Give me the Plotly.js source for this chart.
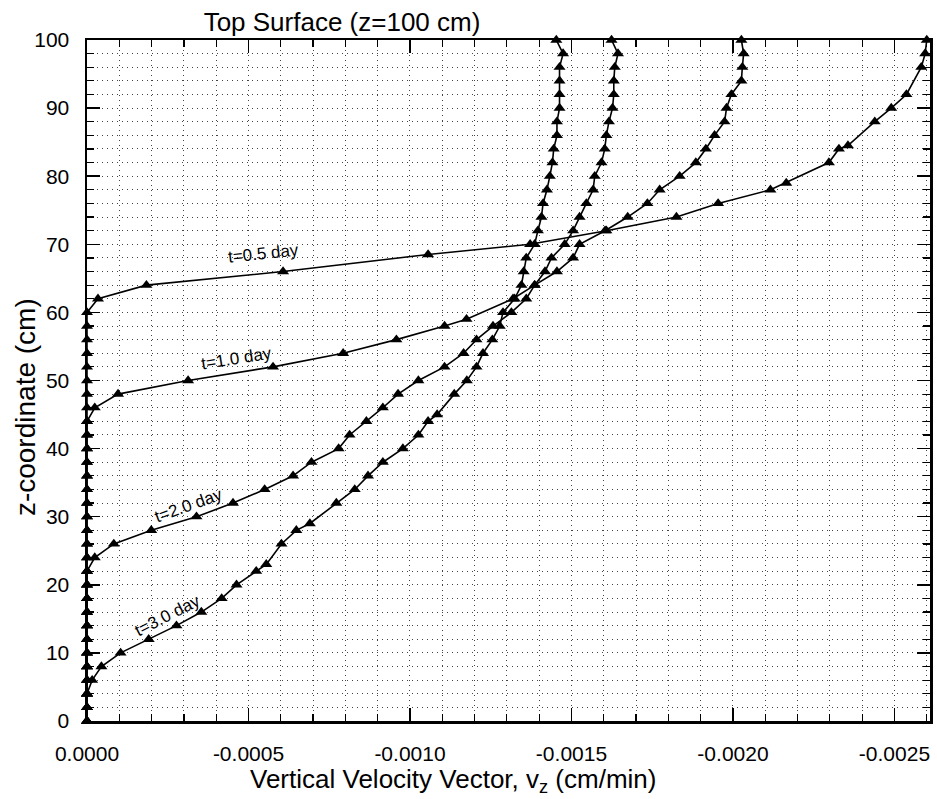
<!DOCTYPE html>
<html>
<head>
<meta charset="utf-8">
<script src="https://cdn.plot.ly/plotly-3.0.1.min.js"></script>
<style>
  html, body { margin: 0; padding: 0; background: #ffffff; }
  #chart { width: 937px; height: 799px; }
</style>
</head>
<body>
<div id="chart"></div>
<script>
// Vertical velocity profiles v_z (cm/min) against depth z (cm) at four times.

const z05 = [100, 98, 96, 92, 90, 88, 84.5, 84, 82, 79, 78, 76, 74, 72, 70, 68.5, 66, 64, 62, 60,
  58, 56, 54, 52, 50, 48, 46, 44, 42, 40, 38, 36, 34, 32, 30, 28, 26, 24, 22, 20,
  18, 16, 14, 12, 10, 8, 6, 4, 2, 0];
const v05 = [-0.002600, -0.002595, -0.002583, -0.002537, -0.002490, -0.002439, -0.002356, -0.002328,
  -0.002297, -0.002165, -0.002116, -0.001954, -0.001825, -0.001608, -0.001372, -0.001056,
  -0.000607, -0.000184, -0.000034, 0,
  0, 0, 0, 0, 0, 0, 0, 0, 0, 0, 0, 0, 0, 0, 0, 0, 0, 0, 0, 0,
  0, 0, 0, 0, 0, 0, 0, 0, 0, 0];

const z10 = [100, 98, 96, 94, 92, 90, 88, 86, 84, 82, 80, 78, 76, 74, 72, 70, 68, 66, 64, 62,
  59, 58, 56, 54, 52, 50, 48, 46, 44, 42, 40, 38, 36, 34, 32, 30, 28, 26, 24, 22,
  20, 18, 16, 14, 12, 10, 8, 6, 4, 2, 0];
const v10 = [-0.002026, -0.002033, -0.002029, -0.002026, -0.001995, -0.001980, -0.001974, -0.001943,
  -0.001916, -0.001885, -0.001835, -0.001773, -0.001735, -0.001674, -0.001604, -0.001525,
  -0.001505, -0.001455, -0.001386, -0.001319,
  -0.001175, -0.001107, -0.000958, -0.000793, -0.000576, -0.000313, -0.000096, -0.000024,
  0, 0, 0, 0, 0, 0, 0, 0, 0, 0, 0, 0,
  0, 0, 0, 0, 0, 0, 0, 0, 0, 0, 0];

const z20 = [100, 98, 96, 94, 92, 90, 88, 86, 84, 82, 80, 78, 76, 74, 72, 70, 68, 66, 64, 62,
  60, 58, 56, 54, 52, 50, 48, 46, 44, 42, 40, 38, 36, 34, 32, 30, 28, 26, 24, 22,
  20, 18, 16, 14, 12, 10, 8, 6, 4, 2, 0];
const v20 = [-0.001624, -0.001644, -0.001634, -0.001631, -0.001631, -0.001627, -0.001616, -0.001608,
  -0.001603, -0.001593, -0.001572, -0.001567, -0.001546, -0.001525, -0.001505, -0.001479,
  -0.001438, -0.001418, -0.001386, -0.001360,
  -0.001314, -0.001257, -0.001206, -0.001166, -0.001107, -0.001026, -0.000963, -0.000916,
  -0.000865, -0.000813, -0.000779, -0.000695, -0.000638, -0.000550, -0.000452, -0.000339,
  -0.000199, -0.000083, -0.000024, 0,
  0, 0, 0, 0, 0, 0, 0, 0, 0, 0, 0];

const z30 = [100, 98, 96, 94, 92, 90, 88, 86, 84, 82, 80, 78, 76, 74, 72, 70, 68, 66, 64, 62,
  60, 58, 56, 54, 52, 50, 48, 45, 44, 42, 40, 38, 36, 34, 32, 29, 28, 26, 23, 22,
  20, 18, 16, 14, 12, 10, 8, 6, 4, 2, 0];
const v30 = [-0.001453, -0.001474, -0.001463, -0.001463, -0.001463, -0.001463, -0.001455, -0.001455,
  -0.001445, -0.001441, -0.001433, -0.001424, -0.001412, -0.001407, -0.001396, -0.001386,
  -0.001360, -0.001352, -0.001345, -0.001324,
  -0.001288, -0.001278, -0.001255, -0.001226, -0.001206, -0.001176, -0.001137, -0.001084,
  -0.001056, -0.001026, -0.000978, -0.000916, -0.000870, -0.000829, -0.000772, -0.000690,
  -0.000648, -0.000602, -0.000555, -0.000524,
  -0.000463, -0.000417, -0.000354, -0.000277, -0.000191, -0.000104, -0.0000446, -0.000016,
  0, 0, 0];

const curveLabels = ['t=0.5 day', 't=1.0 day', 't=2.0 day', 't=3.0 day'];
const labelX = [-0.000546, -0.000463, -0.000315, -0.000250];
const labelZ = [68.6, 53.3, 31.7, 15.5];
const labelAngle = [-6, -9, -20, -27];

const xTickVals = [0, -0.0005, -0.0010, -0.0015, -0.0020, -0.0025];
const xTickText = ['0.0000', '-0.0005', '-0.0010', '-0.0015', '-0.0020', '-0.0025'];

const FONT = '"Liberation Sans", Arial, Helvetica, sans-serif';

function profile(x, y, name) {
  return {
    type: 'scatter', mode: 'lines+markers', name: name,
    x: x, y: y,
    line: { color: '#000000', width: 1.6 },
    marker: { symbol: 'triangle-up', size: 10.5, color: '#000000' },
    cliponaxis: false,
    showlegend: false
  };
}

const traces = [
  profile(v05, z05, curveLabels[0]),
  profile(v10, z10, curveLabels[1]),
  profile(v20, z20, curveLabels[2]),
  profile(v30, z30, curveLabels[3])
];

const gridDash = '1px,4px';
const gridColor = '#444444';

const annotations = curveLabels.map((t, i) => ({
  text: t, x: labelX[i], y: labelZ[i], xref: 'x', yref: 'y',
  showarrow: false, textangle: labelAngle[i],
  font: { family: FONT, size: 17, color: '#000000' }
}));

annotations.push({
  text: 'Vertical Velocity Vector, v<sub>z</sub> (cm/min)',
  xref: 'paper', yref: 'paper', x: 0.4336, y: -0.088,
  xanchor: 'center', yanchor: 'middle', showarrow: false,
  font: { family: FONT, size: 26, color: '#000000' }
});
annotations.push({
  text: 'z-coordinate (cm)',
  xref: 'paper', yref: 'paper', x: -0.0735, y: 0.461,
  xanchor: 'center', yanchor: 'middle', showarrow: false, textangle: -90,
  font: { family: FONT, size: 28, color: '#000000' }
});

const layout = {
  width: 937, height: 799,
  margin: { l: 87, r: 7, t: 40, b: 78 },
  paper_bgcolor: '#ffffff', plot_bgcolor: '#ffffff',
  font: { family: FONT, size: 21, color: '#000000' },
  title: {
    text: 'Top Surface (z=100 cm)',
    font: { family: FONT, size: 26, color: '#000000' },
    xref: 'container', yref: 'container',
    x: 0.365, xanchor: 'center', y: 0.9725, yanchor: 'middle'
  },
  xaxis: {
    range: [0, -0.00261],
    tickvals: xTickVals, ticktext: xTickText,
    ticks: 'inside', ticklen: 13, tickwidth: 1.5, tickcolor: '#000000',
    ticklabelstandoff: 12,
    showline: true, linewidth: 2.5, linecolor: '#000000', mirror: 'ticks',
    showgrid: true, gridcolor: gridColor, gridwidth: 1, griddash: gridDash,
    zeroline: false,
    tickfont: { family: FONT, size: 21, color: '#000000' },
    minor: {
      dtick: 0.0001, ticks: 'inside', ticklen: 7, tickwidth: 1.2, tickcolor: '#000000',
      showgrid: true, gridcolor: gridColor, gridwidth: 1, griddash: gridDash
    }
  },
  yaxis: {
    range: [0, 100], dtick: 10, tick0: 0,
    ticks: 'inside', ticklen: 13, tickwidth: 1.5, tickcolor: '#000000',
    ticklabelstandoff: 11,
    showline: true, linewidth: 2.5, linecolor: '#000000', mirror: 'ticks',
    showgrid: true, gridcolor: gridColor, gridwidth: 1, griddash: gridDash,
    zeroline: false,
    tickfont: { family: FONT, size: 21, color: '#000000' },
    minor: {
      dtick: 2, ticks: 'inside', ticklen: 7, tickwidth: 1.2, tickcolor: '#000000',
      showgrid: true, gridcolor: gridColor, gridwidth: 1, griddash: gridDash
    }
  },
  annotations: annotations
};

Plotly.newPlot('chart', traces, layout, { displayModeBar: false, staticPlot: true });
</script>
</body>
</html>
